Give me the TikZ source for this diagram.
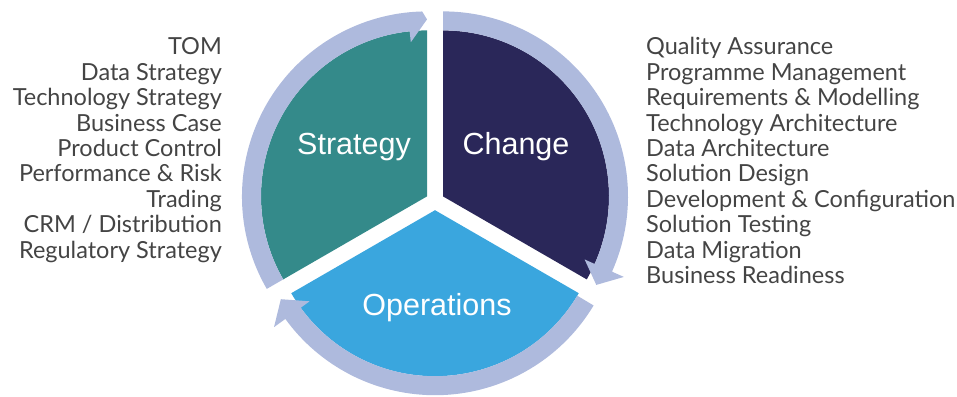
\documentclass[tikz,border=0pt]{standalone}
\usepackage{fontspec}
\setmainfont{Lato}
\newfontfamily\labelfont{Liberation Sans}
\usetikzlibrary{positioning}
\definecolor{stratcol}{HTML}{348A8A}
\definecolor{changecol}{HTML}{2A2759}
\definecolor{opscol}{HTML}{3AA6DE}
\definecolor{ringcol}{HTML}{AEBADD}
\definecolor{txtcol}{HTML}{444444}
\tikzset{
  listtext/.style={text=txtcol, inner sep=0pt, font=\fontsize{23.5}{25}\selectfont},
  seclabel/.style={text=white, inner sep=0pt, font=\labelfont\fontsize{30.5}{34}\selectfont}
}

\begin{document}
\begin{tikzpicture}[x=1pt,y=1pt]
\clip (0,0) rectangle (957,396);
\coordinate (s) at (427,199.6);
\coordinate (c) at (443,199.6);
\coordinate (o) at (435,185.8);

\fill[stratcol] (s) -- ++(90:166pt) arc[start angle=90,end angle=210,radius=166pt] -- cycle;
\fill[changecol] (c) -- ++(90:166pt) arc[start angle=90,end angle=-30,radius=166pt] -- cycle;
\fill[opscol] (o) -- ++(-30:166pt) arc[start angle=-30,end angle=-150,radius=166pt] -- cycle;

\begin{scope}[shift={(s)}]
\fill[ringcol] (210:185pt) arc[start angle=210,end angle=91.5,radius=185pt] -- (90:177pt) -- (96:155pt) -- (96:166pt) arc[start angle=96,end angle=210,radius=166pt] -- cycle;
\end{scope}
\begin{scope}[shift={(c)}]
\fill[ringcol] (90:185pt) arc[start angle=90,end angle=-24,radius=185pt] -- (-24:198pt) -- (-30:177pt) -- (-24:155pt) -- (-24:166pt) arc[start angle=-24,end angle=90,radius=166pt] -- cycle;
\end{scope}
\begin{scope}[shift={(o)}]
\fill[ringcol] (-31:185pt) arc[start angle=-31,end angle=-144,radius=185pt] -- (-144:199pt) -- (-150:178pt) -- (-144:155pt) -- (-144:166pt) arc[start angle=-144,end angle=-31,radius=166pt] -- cycle;
\end{scope}

\node[seclabel] (strategy) at (354,249) {Strategy};
\node[seclabel] (change) at (516,249) {Change};
\node[seclabel] (operations) at (437,88) {Operations};

\foreach \t [count=\i] in {TOM, Data Strategy, Technology Strategy, Business Case, Product Control, Performance \& Risk, Trading, CRM / Distribution, Regulatory Strategy}
  \node[listtext, anchor=base east] (left\i) at (222,{366.4-25.4*\i}) {\t};

\foreach \t [count=\i] in {Quality Assurance, Programme Management, Requirements \& Modelling, Technology Architecture, Data Architecture, Solution Design, Development \& Configuration, Solution Testing, Data Migration, Business Readiness}
  \node[listtext, anchor=base west] (right\i) at (646,{366.4-25.4*\i}) {\t};
\end{tikzpicture}
\end{document}
